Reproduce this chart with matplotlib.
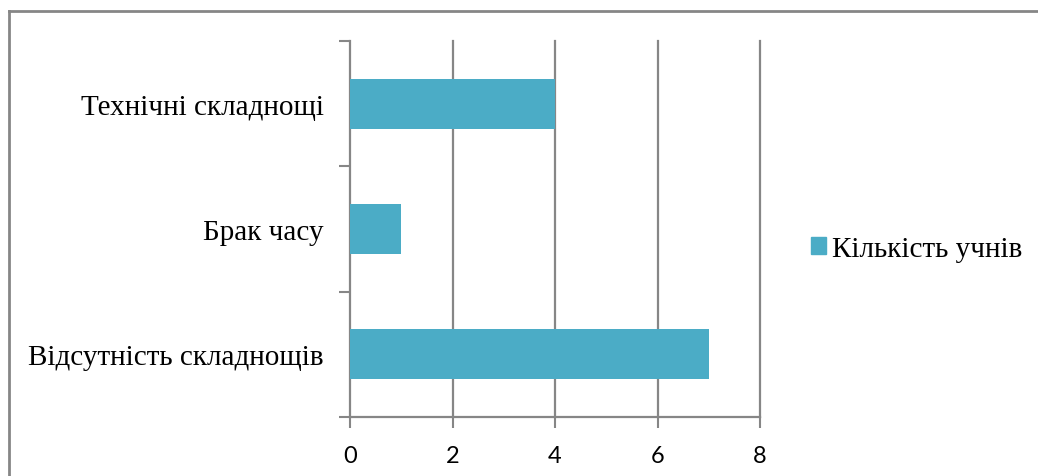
import matplotlib
matplotlib.use("Agg")
import matplotlib.pyplot as plt
from matplotlib.lines import Line2D
from matplotlib.patches import Patch

categories = ["Відсутність складнощів", "Брак часу", "Технічні складнощі"]
values = [7, 1, 4]
series_name = "Кількість учнів"
xticks = [0, 2, 4, 6, 8]

bar_color = "#4BACC6"
grid_color = "#868686"

W, H = 1038, 477
fig = plt.figure(figsize=(W / 100, H / 100), dpi=100)
ax = fig.add_axes([350 / W, (H - 418) / H, 410 / W, 376 / H])

ypos = list(range(len(categories)))
ax.barh(ypos, values, height=0.4, color=bar_color, zorder=3)

ax.set_xlim(0, 8)
ax.set_ylim(-0.5, 2.5)
ax.set_xticks(xticks)
ax.set_xticklabels([str(v) for v in xticks], fontfamily="Lato", fontsize=17)
ax.set_yticks(ypos)
ax.set_yticklabels(categories, fontfamily="Liberation Serif", fontsize=21)
ax.tick_params(axis="y", length=0, pad=19)
ax.set_yticks([-0.5, 0.5, 1.5, 2.5], minor=True)
ax.tick_params(axis="y", which="minor", length=8, width=1.5, color=grid_color, direction="out")
ax.tick_params(axis="x", length=8, width=1.5, color=grid_color, direction="out", pad=12)

for v in xticks[1:]:
    ax.axvline(v, color=grid_color, linewidth=1.6, zorder=1, clip_on=False)

for s in ["top", "right"]:
    ax.spines[s].set_visible(False)
for s in ["left", "bottom"]:
    ax.spines[s].set_color(grid_color)
    ax.spines[s].set_linewidth(1.6)

fig.legend(handles=[Patch(color=bar_color, label=series_name)],
           loc="center left", bbox_to_anchor=(785 / W, (H - 250) / H),
           frameon=False, handlelength=0.5, handleheight=0.5, handletextpad=0.2,
           prop={"family": "Liberation Serif", "size": 21})

# outer chart border (only top and left are inside the image)
fig.add_artist(Line2D([8.5 / W, 8.5 / W], [0, (H - 11.5) / H], color=grid_color, linewidth=2, transform=fig.transFigure))
fig.add_artist(Line2D([8.5 / W, 1], [(H - 11.5) / H, (H - 11.5) / H], color=grid_color, linewidth=2, transform=fig.transFigure))

fig.savefig("out.png", dpi=100)
